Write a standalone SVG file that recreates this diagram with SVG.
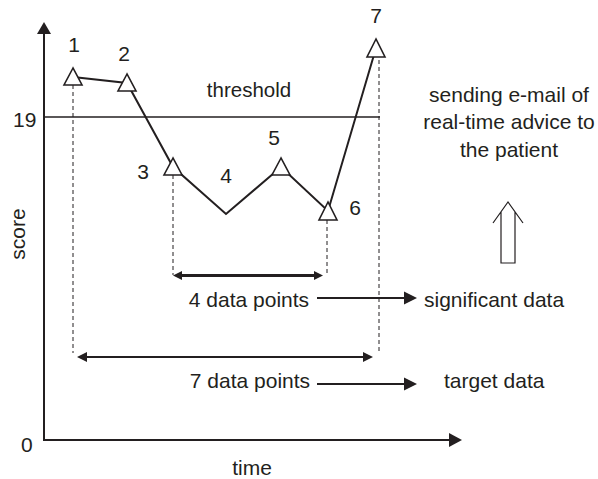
<svg xmlns="http://www.w3.org/2000/svg" width="598" height="479" viewBox="0 0 598 479">
<style>
text{font-family:"Liberation Sans",Arial,sans-serif;font-size:21px;fill:#231f20}
.ax{stroke:#231f20;stroke-width:2;fill:none}
.thin{stroke:#231f20;stroke-width:1.5;fill:none}
.dash{stroke:#231f20;stroke-width:1;fill:none;stroke-dasharray:4,3}
.tri{fill:#fff;stroke:#231f20;stroke-width:1.6}
.head{fill:#231f20;stroke:none}
</style>
<rect width="598" height="479" fill="#fff"/>
<g id="axes">
<line class="ax" x1="44" y1="440" x2="44" y2="32"/>
<polygon class="head" points="44,22 37,34 51,34"/>
<line class="ax" x1="43" y1="440" x2="451" y2="440"/>
<polygon class="head" points="462,440 449,433 449,447"/>
<text x="13" y="127">19</text>
<text x="21" y="452">0</text>
<text x="252" y="475" text-anchor="middle">time</text>
<text transform="translate(25,234) rotate(-90)" text-anchor="middle">score</text>
</g>
<g id="threshold">
<line class="thin" x1="44" y1="117" x2="380" y2="117"/>
<text x="249" y="97" text-anchor="middle" style="font-size:20.5px">threshold</text>
</g>
<g id="connectors">
<line class="dash" x1="73" y1="85" x2="73" y2="353"/>
<line class="dash" x1="173" y1="175" x2="173" y2="275"/>
<line class="dash" x1="327" y1="220" x2="327" y2="275"/>
<line class="dash" x1="379" y1="60" x2="379" y2="353"/>
<polyline points="73,77 127,83 173,167 226,214 281,167 328,211 376,48" fill="none" stroke="#231f20" stroke-width="2" stroke-linejoin="miter"/>
<line x1="180" y1="275.5" x2="315" y2="275.5" stroke="#231f20" stroke-width="3"/>
<polygon class="head" points="173,275.5 182,271 182,280"/>
<polygon class="head" points="323,275.5 314,271 314,280"/>
<line x1="85" y1="357" x2="365" y2="357" stroke="#231f20" stroke-width="2"/>
<polygon class="head" points="77,357 87,352 87,362"/>
<polygon class="head" points="373,357 363,352 363,362"/>
<line x1="317" y1="298" x2="407" y2="298" stroke="#231f20" stroke-width="1.8"/>
<polygon class="head" points="417,298 404,291.5 404,304.5"/>
<line x1="317" y1="384" x2="407" y2="384" stroke="#231f20" stroke-width="1.8"/>
<polygon class="head" points="417,384 404,377.5 404,390.5"/>
<path d="M493,223 L508,202 L523,223 M501,212 L501,263 L515,263 L515,212" fill="none" stroke="#231f20" stroke-width="1.2"/>
</g>
<g id="p1"><polygon class="tri" points="73,68 64,85 82,85"/><text x="74" y="52" text-anchor="middle">1</text></g>
<g id="p2"><polygon class="tri" points="127,74 118,91 136,91"/><text x="124" y="61" text-anchor="middle">2</text></g>
<g id="p3"><polygon class="tri" points="173,158 164,175 182,175"/><text x="143" y="179" text-anchor="middle">3</text></g>
<g id="p4"><text x="226" y="183" text-anchor="middle">4</text></g>
<g id="p5"><polygon class="tri" points="281,158 272,175 290,175"/><text x="274" y="145" text-anchor="middle">5</text></g>
<g id="p6"><polygon class="tri" points="328,202 319,220 337,220"/><text x="355" y="215" text-anchor="middle">6</text></g>
<g id="p7"><polygon class="tri" points="376,39 367,57 385,57"/><text x="376" y="23" text-anchor="middle">7</text></g>
<g id="labels">
<text x="249" y="307" text-anchor="middle">4 data points</text>
<text x="424" y="307">significant data</text>
<text x="250" y="388" text-anchor="middle">7 data points</text>
<text x="444" y="388">target data</text>
</g>
<g id="advice">
<text x="509" y="102" text-anchor="middle">sending e-mail of</text>
<text x="509" y="129" text-anchor="middle">real-time advice to</text>
<text x="509" y="157" text-anchor="middle">the patient</text>
</g>
</svg>
